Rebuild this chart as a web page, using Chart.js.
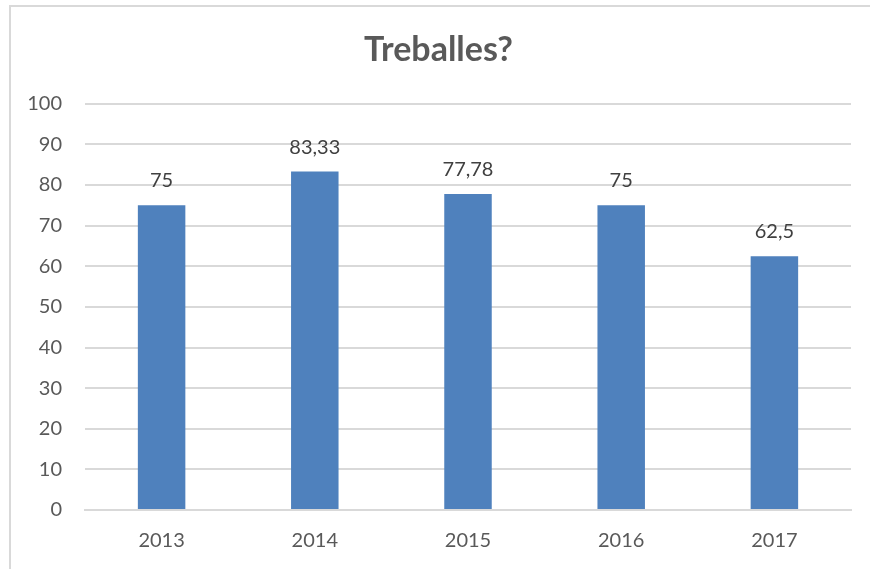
<!DOCTYPE html>
<html>
<head>
<meta charset="utf-8">
<script src="https://cdn.jsdelivr.net/npm/chart.js@4.4.0/dist/chart.umd.min.js"></script>
<style>
  html, body { margin: 0; padding: 0; background: #fff; }
  #marc { position: absolute; left: 9px; top: 5px; width: 880px; height: 600px; border: 2px solid #d9d9d9; box-sizing: border-box; }
  #caixa { position: absolute; left: 0; top: 0; width: 870px; height: 569px; }
</style>
</head>
<body>
<div id="marc"></div>
<div id="caixa"><canvas id="grafic"></canvas></div>
<script>
const anys = ['2013', '2014', '2015', '2016', '2017'];
const valors = [75, 83.33, 77.78, 75, 62.5];
const titol = 'Treballes?';

const etiquetes = {
    id: 'etiquetes',
    afterDatasetsDraw(chart) {
        const ctx = chart.ctx;
        const meta = chart.getDatasetMeta(0);
        ctx.save();
        ctx.font = '20px Lato, "Noto Sans", sans-serif';
        ctx.fillStyle = '#404040';
        ctx.textAlign = 'center';
        ctx.textBaseline = 'alphabetic';
        meta.data.forEach(function (barra, i) {
            const text = String(valors[i]).replace('.', ',');
            ctx.fillText(text, barra.x, barra.y - 18);
        });
        ctx.restore();
    }
};

Chart.defaults.font.family = 'Lato, "Noto Sans", sans-serif';
Chart.defaults.color = '#595959';

const ctx = document.getElementById('grafic').getContext('2d');
const grafic = new Chart(ctx, {
    type: 'bar',
    data: {
        labels: anys,
        datasets: [{
            data: valors,
            backgroundColor: '#4f81bd',
            borderWidth: 0,
            categoryPercentage: 1,
            barPercentage: 0.31
        }]
    },
    options: {
        responsive: true,
        maintainAspectRatio: false,
        animation: false,
        layout: { padding: { left: 26, right: 19, top: 0, bottom: 0 } },
        plugins: {
            legend: { display: false },
            tooltip: { enabled: false },
            title: {
                display: true,
                text: titol,
                color: '#595959',
                font: { size: 34, weight: 'bold' },
                padding: { top: 30, bottom: 33 }
            }
        },
        scales: {
            y: {
                min: 0,
                max: 100,
                ticks: { stepSize: 10, padding: 23, font: { size: 20 }, color: '#595959' },
                grid: { color: '#d9d9d9', lineWidth: 2, drawTicks: false },
                border: { display: false },
                afterFit: function (escala) { escala.width = 59; }
            },
            x: {
                ticks: { padding: 19, font: { size: 20 }, color: '#595959' },
                grid: { display: false, drawTicks: false },
                border: { color: '#d9d9d9', width: 2 },
                afterFit: function (escala) { escala.height = 59; }
            }
        }
    },
    plugins: [etiquetes]
});
</script>
</body>
</html>
